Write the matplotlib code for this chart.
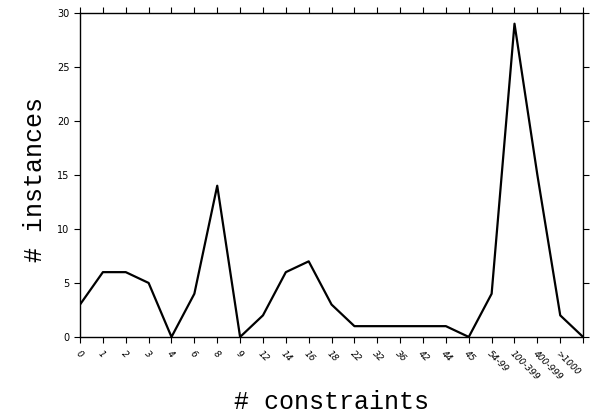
import numpy as np
import matplotlib.pyplot as plt

labels = ['0', '1', '2', '3', '4', '6', '8', '9', '12', '14', '16', '18', '22',
          '32', '36', '42', '44', '45', '54-99', '100-399', '400-999', '>1000', '']
counts = [3, 6, 6, 5, 0, 4, 14, 0, 2, 6, 7, 3, 1, 1, 1, 1, 1, 0, 4, 29, 15, 2, 0]

x = np.arange(len(counts))

fig = plt.figure(figsize=(5.95, 4.16), dpi=100)
ax = fig.add_axes([0.1345, 0.19, 0.8455, 0.779])

ax.plot(x, counts, color='black', linewidth=1.6)

ax.set_xlim(0, len(counts) - 1)
ax.set_ylim(0, 30)
ax.set_yticks([0, 5, 10, 15, 20, 25, 30])
ax.set_xticks(x)
ax.set_xticklabels(labels, rotation=-45, ha='left', va='top',
                   rotation_mode='anchor', fontsize=6.5, style='italic')
ax.tick_params(axis='x', direction='out', length=4, width=0.8,
               top=True, pad=5)
ax.tick_params(axis='y', direction='out', length=4, width=0.8,
               right=True, labelsize=7)
for s in ax.spines.values():
    s.set_linewidth(1.0)

ax.set_xlabel('# constraints', fontsize=18, family='Liberation Mono', va='center')
ax.xaxis.set_label_coords(0.5, -0.2)
ax.set_ylabel('# instances', fontsize=18, family='Liberation Mono', va='center')
ax.yaxis.set_label_coords(-0.089, 0.485)

plt.savefig('out.png', dpi=100)
